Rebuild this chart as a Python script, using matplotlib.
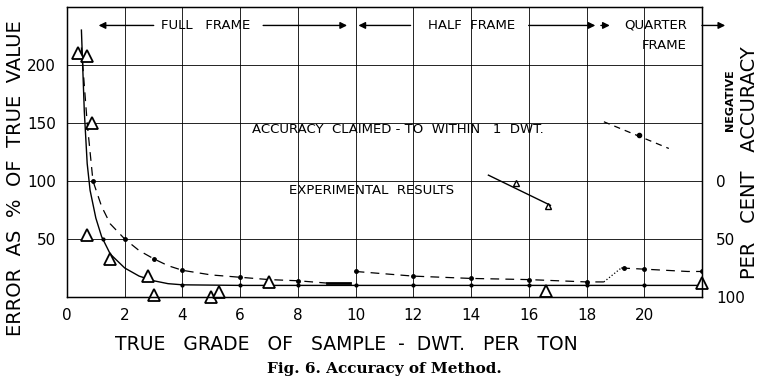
import numpy as np
import matplotlib.pyplot as plt

# theoretical (solid) curve
solid_x = [0.5, 0.6, 0.7, 0.8, 1.0, 1.2, 1.5, 2.0, 2.5, 3.0, 3.5, 4.0, 6, 8, 10, 12, 14, 16, 18, 20, 22]
solid_y = [230, 160, 115, 92, 68, 52, 37, 25, 18, 14, 11.5, 10.5, 10, 10, 10, 10, 10, 10, 10, 10, 10]
solid_dot_x = [1.25, 4, 6, 8, 10, 12, 14, 16, 18, 20]
solid_dot_y = [50, 10, 10, 10, 10, 10, 10, 10, 10, 10]

# accuracy claimed (dashed) - full frame part
dash1_x = [0.5, 0.7, 0.9, 1.2, 1.5, 2.0, 2.5, 3.0, 3.5, 4.0, 5.0, 6.0, 7.0, 8.0, 9.0]
dash1_y = [215, 150, 100, 78, 63, 50, 40, 33, 27, 23, 19, 17, 15, 14, 12]
# half frame part
dash2_x = [10, 12, 14, 16, 18, 18.6]
dash2_y = [22, 18, 16, 15, 13, 13]
# quarter frame part
dash3_x = [19.2, 20, 21.5, 22]
dash3_y = [25, 24, 22, 22]
dash_dot_x = [0.9, 2, 3, 4, 6, 8, 10, 12, 14, 16, 18, 19.3, 20, 22]
dash_dot_y = [100, 50, 33, 23, 17, 14, 22, 18, 16, 15, 13, 25, 24, 22]

# experimental results (triangles)
tri_x = [0.38, 0.7, 0.87, 0.7, 1.5, 2.8, 3.0, 5.0, 5.25, 7.0, 16.6, 22.0]
tri_y = [210, 208, 150, 53, 33, 18, 2, 0, 4, 13, 5, 12]

x_ticks = [0, 2, 4, 6, 8, 10, 12, 14, 16, 18, 20]
y_ticks = [50, 100, 150, 200]
right_ticks = [0, 50, 100]

plt.rcParams['font.family'] = 'DejaVu Sans'

fig = plt.figure(figsize=(7.69, 3.91), dpi=100)
ax = fig.add_axes([0.0871, 0.2404, 0.8258, 0.742])

ax.set_xlim(0, 22)
ax.set_ylim(0, 250)
ax.set_xticks(x_ticks)
ax.set_yticks(y_ticks)
ax.set_xticklabels([str(t) for t in x_ticks], fontsize=11)
ax.set_yticklabels([str(t) for t in y_ticks], fontsize=11)
ax.tick_params(length=0, pad=8)
ax.grid(True, color='black', linewidth=0.6)
for s in ax.spines.values():
    s.set_linewidth(1.0)

ax.plot(solid_x, solid_y, color='black', lw=1.0)
ax.plot(solid_dot_x, solid_dot_y, 'k.', ms=4)

ax.plot(dash1_x, dash1_y, color='black', lw=0.9, ls=(0, (7, 5)))
ax.plot([9.0, 9.8], [12, 12], color='black', lw=2)
ax.plot(dash2_x, dash2_y, color='black', lw=0.9, ls=(0, (7, 5)))
ax.plot([18.6, 19.2], [13, 25], color='black', lw=0.9, ls=':')
ax.plot(dash3_x, dash3_y, color='black', lw=0.9, ls=(0, (7, 5)))
ax.plot(dash_dot_x, dash_dot_y, 'k.', ms=5)

ax.plot(tri_x, tri_y, ls='none', marker='^', ms=8, mfc='white', mec='black', mew=1.3,
        clip_on=False)

# legend keys drawn inside the plot
ax.text(6.4, 144, 'ACCURACY  CLAIMED - TO  WITHIN   1  DWT.', fontsize=9.5, va='center')
ax.plot([18.6, 20.85], [151, 128], color='black', lw=0.9, ls=(0, (5, 4)))
ax.plot([19.8], [140], 'k.', ms=6)
ax.text(7.7, 92, 'EXPERIMENTAL  RESULTS', fontsize=9.5, va='center')
ax.plot([14.6, 16.75], [105, 79], color='black', lw=1.0)
ax.plot([15.55, 16.65], [98, 78], ls='none', marker='^', ms=5, mfc='white', mec='black')

# frame size bands along top
band_y = 234
ax.annotate('', xy=(1.0, band_y), xytext=(3.1, band_y),
            arrowprops=dict(arrowstyle='-|>', color='black', lw=1))
ax.text(4.8, band_y, 'FULL   FRAME', fontsize=9.5, ha='center', va='center')
ax.annotate('', xy=(9.8, band_y), xytext=(6.7, band_y),
            arrowprops=dict(arrowstyle='-|>', color='black', lw=1))
ax.annotate('', xy=(10.0, band_y), xytext=(12.0, band_y),
            arrowprops=dict(arrowstyle='-|>', color='black', lw=1))
ax.text(14.0, band_y, 'HALF  FRAME', fontsize=9.5, ha='center', va='center')
ax.annotate('', xy=(18.4, band_y), xytext=(15.9, band_y),
            arrowprops=dict(arrowstyle='-|>', color='black', lw=1))
ax.annotate('', xy=(18.9, band_y), xytext=(18.4, band_y),
            arrowprops=dict(arrowstyle='-|>', color='black', lw=1))
ax.text(20.4, band_y, 'QUARTER', fontsize=9.5, ha='center', va='center')
ax.text(20.7, band_y - 17, 'FRAME', fontsize=9.5, ha='center', va='center')
ax.annotate('', xy=(22.9, band_y), xytext=(21.9, band_y),
            arrowprops=dict(arrowstyle='-|>', color='black', lw=1), annotation_clip=False)

fig.text(0.451, 0.118, 'TRUE   GRADE   OF   SAMPLE  -  DWT.   PER   TON', fontsize=13.5,
         ha='center', va='center')
fig.text(0.02, 0.545, 'ERROR  AS  %  OF  TRUE  VALUE', fontsize=14, rotation=90,
         ha='center', va='center')

# right-hand scale: per cent accuracy = 100 - error
ax2 = ax.twinx()
ax2.set_ylim(ax.get_ylim())
ax2.set_yticks([100 - t for t in right_ticks])
ax2.set_yticklabels([str(t) for t in right_ticks], fontsize=11)
ax2.tick_params(length=0, pad=10)
ax2.text(1.044, 0.68, 'NEGATIVE', transform=ax.transAxes, rotation=90,
         fontsize=8, fontweight='bold', ha='center', va='center')
fig.text(0.975, 0.583, 'PER   CENT   ACCURACY', fontsize=14, rotation=90,
         ha='center', va='center')

fig.text(0.5, 0.045, 'Fig. 6. Accuracy of Method.', fontsize=11, ha='center',
         family='DejaVu Serif', fontweight='bold')

fig.savefig('out.png', dpi=100)
